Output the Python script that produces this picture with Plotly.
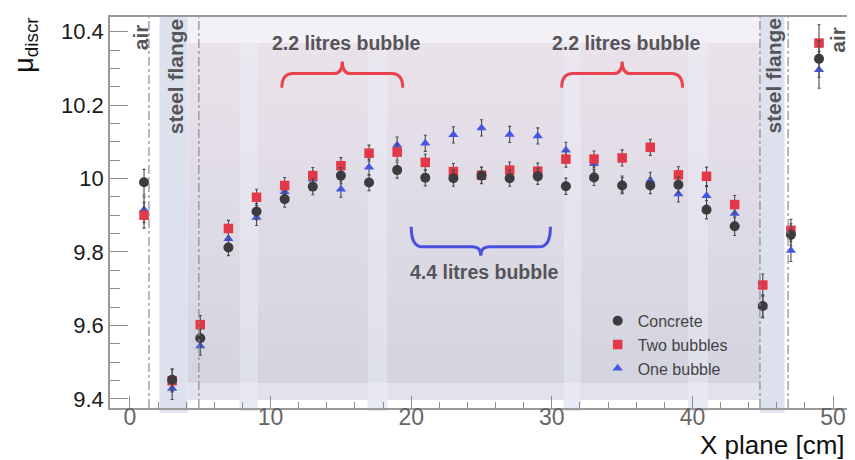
import plotly.graph_objects as go

# ---------------- data ----------------
x_plane = [1, 3, 5, 7, 9, 11, 13, 15, 17, 19, 21, 23, 25, 27, 29, 31, 33, 35, 37, 39, 41, 43, 45, 47, 49]

concrete = [9.990, 9.452, 9.565, 9.812, 9.910, 9.944, 9.978, 10.008, 9.989, 10.023, 10.002, 10.001, 10.008,
            10.001, 10.006, 9.979, 10.003, 9.981, 9.981, 9.983, 9.915, 9.870, 9.653, 9.847, 10.326]
concrete_err = [0.035, 0.030, 0.025, 0.022, 0.022, 0.022, 0.022, 0.022, 0.022, 0.022, 0.022, 0.022, 0.022,
                0.022, 0.022, 0.022, 0.022, 0.022, 0.022, 0.022, 0.025, 0.025, 0.030, 0.030, 0.050]

two_bubbles = [9.900, 9.449, 9.602, 9.864, 9.949, 9.981, 10.008, 10.035, 10.069, 10.072, 10.044, 10.019, 10.009,
               10.023, 10.020, 10.053, 10.053, 10.056, 10.085, 10.010, 10.006, 9.929, 9.710, 9.859, 10.369]
two_err = [0.035, 0.030, 0.025, 0.022, 0.022, 0.022, 0.022, 0.022, 0.022, 0.022, 0.022, 0.022, 0.022,
           0.022, 0.022, 0.022, 0.022, 0.022, 0.022, 0.022, 0.025, 0.025, 0.030, 0.030, 0.050]

one_bubble = [9.915, 9.428, 9.544, 9.836, 9.894, 9.964, 9.998, 9.971, 10.031, 10.091, 10.096, 10.119, 10.138,
              10.120, 10.116, 10.077, 10.040, 9.985, 9.995, 9.958, 9.953, 9.905, 9.650, 9.804, 10.296]
one_err = [0.035, 0.030, 0.025, 0.022, 0.022, 0.022, 0.022, 0.022, 0.022, 0.022, 0.022, 0.022, 0.022,
           0.022, 0.022, 0.022, 0.022, 0.022, 0.022, 0.022, 0.025, 0.025, 0.030, 0.030, 0.050]

series_names = ["Concrete", "Two bubbles", "One bubble"]

FONT = "Liberation Sans, Arial, Helvetica, sans-serif"
C_CONC = "#3c3c3e"
C_TWO = "#e23848"
C_ONE = "#4656e0"
C_ERR = "#4a4a4a"
C_LBL = "#555458"

fig = go.Figure()

# ---------------- background decoration (photo-like panels) ----------------
fig.add_trace(go.Scatter(
    x=[4.1, 44.8, 44.8, 4.1, 4.1], y=[9.442, 9.442, 10.369, 10.369, 9.442],
    mode="lines", fill="toself", line=dict(width=0),
    fillgradient=dict(type="vertical", start=9.442, stop=10.369,
                      colorscale=[[0, "#d3d4df"], [0.5, "#dedbe6"], [1, "#eae2ea"]]),
    hoverinfo="skip", showlegend=False))
# lighter pillars over the panel
for x0, x1 in [(7.8, 9.1), (16.9, 18.3), (30.85, 32.05), (39.7, 41.1)]:
    fig.add_trace(go.Scatter(
        x=[x0, x1, x1, x0, x0], y=[9.30, 9.30, 10.50, 10.50, 9.30],
        mode="lines", fill="toself", line=dict(width=0),
        fillcolor="rgba(238,240,248,0.45)", hoverinfo="skip", showlegend=False))

shapes = []
# top whitish strip and bottom lavender strip
shapes.append(dict(type="rect", xref="x", yref="y", x0=4.1, x1=44.8, y0=10.369, y1=10.44,
                   fillcolor="#f3f1f5", line_width=0, layer="below"))
shapes.append(dict(type="rect", xref="x", yref="y", x0=4.1, x1=44.8, y0=9.397, y1=9.442,
                   fillcolor="#e2e2ec", line_width=0, layer="below"))
# steel flange bands
for x0, x1 in [(2.1, 4.1), (44.8, 46.55)]:
    shapes.append(dict(type="rect", xref="x", yref="paper", x0=x0, x1=x1, y0=-0.012, y1=1,
                       fillcolor="#dde1ee", line_width=0, layer="below"))
# pillar feet below the axis
for x0, x1 in [(7.8, 9.1), (16.9, 18.3), (30.85, 32.05), (39.7, 41.1)]:
    shapes.append(dict(type="rect", xref="x", yref="paper", x0=x0, x1=x1, y0=-0.008, y1=0.02,
                       fillcolor="#e6e8f1", line_width=0, layer="below"))
# dash-dot boundary lines
for xv in [1.35, 4.9, 44.8, 46.8]:
    shapes.append(dict(type="line", xref="x", yref="paper", x0=xv, x1=xv, y0=0, y1=1,
                       line=dict(color="#8a8a8e", width=1.2, dash="dashdot"), layer="above"))


def brace_up(x0, x1, xc, y_end, y_arm, y_tip):
    r = 0.8
    return (f"M {x0},{y_end} Q {x0},{y_arm} {x0 + r},{y_arm} L {xc - 0.6},{y_arm} "
            f"Q {xc},{y_arm} {xc},{y_tip} Q {xc},{y_arm} {xc + 0.6},{y_arm} "
            f"L {x1 - r},{y_arm} Q {x1},{y_arm} {x1},{y_end}")


shapes.append(dict(type="path", xref="x", yref="y",
                   path=brace_up(10.8, 19.4, 15.1, 10.247, 10.286, 10.319),
                   line=dict(color="#e8424f", width=3), layer="above"))
shapes.append(dict(type="path", xref="x", yref="y",
                   path=brace_up(30.7, 39.3, 35.0, 10.247, 10.286, 10.319),
                   line=dict(color="#e8424f", width=3), layer="above"))
shapes.append(dict(type="path", xref="x", yref="y",
                   path=brace_up(20.0, 29.9, 24.95, 9.869, 9.814, 9.790),
                   line=dict(color="#4b4fe0", width=3), layer="above"))

# ---------------- data traces ----------------
def err(arr):
    return dict(type="data", array=arr, visible=True, color=C_ERR, thickness=1.1, width=1.5)


fig.add_trace(go.Scatter(x=x_plane, y=one_bubble, error_y=err(one_err), mode="markers",
                         name=series_names[2], legendrank=3,
                         marker=dict(symbol="triangle-up", size=9, color=C_ONE)))
fig.add_trace(go.Scatter(x=x_plane, y=two_bubbles, error_y=err(two_err), mode="markers",
                         name=series_names[1], legendrank=2,
                         marker=dict(symbol="square", size=9.5, color=C_TWO)))
fig.add_trace(go.Scatter(x=x_plane, y=concrete, error_y=err(concrete_err), mode="markers",
                         name=series_names[0], legendrank=1,
                         marker=dict(symbol="circle", size=10, color=C_CONC)))

# ---------------- annotations ----------------
ann = []
bold = dict(family=FONT, size=19.5, color=C_LBL)
ann.append(dict(x=15.4, y=10.369, xref="x", yref="y", text="<b>2.2 litres bubble</b>", showarrow=False, font=bold))
ann.append(dict(x=35.3, y=10.369, xref="x", yref="y", text="<b>2.2 litres bubble</b>", showarrow=False, font=bold))
ann.append(dict(x=25.2, y=9.745, xref="x", yref="y", text="<b>4.4 litres bubble</b>", showarrow=False, font=bold))
for xv, yv, t in [(0.71, 10.385, "air"), (3.26, 10.278, "steel flange"),
                  (45.74, 10.281, "steel flange"), (50.35, 10.378, "air")]:
    ann.append(dict(x=xv, y=yv, xref="x", yref="y", text=f"<b>{t}</b>", textangle=-90,
                    showarrow=False, font=dict(family=FONT, size=21, color=C_LBL)))
# axis titles
ann.append(dict(x=(25 - 110) / 740, y=(400 - 45) / 383, xref="paper", yref="paper",
                xanchor="center", yanchor="middle",
                text="μ<sub>discr</sub>", textangle=-90, showarrow=False,
                font=dict(family=FONT, size=27, color="#111111")))
ann.append(dict(x=(849 - 110) / 740, y=(400 - 436) / 383, xref="paper", yref="paper",
                xanchor="right", yanchor="middle",
                text="X plane [cm]", showarrow=False,
                font=dict(family=FONT, size=26, color="#111111")))

# The page body adds an 8 px margin, so the figure is 8 px smaller and its margins 8 px tighter.
fig.update_layout(
    width=847, height=452,
    margin=dict(l=102, r=5, t=9, b=52),
    paper_bgcolor="white", plot_bgcolor="white",
    font=dict(family=FONT),
    shapes=shapes, annotations=ann,
    showlegend=True,
    legend=dict(x=(599 - 110) / 740, y=(400 - 298) / 383, xanchor="left", yanchor="top",
                bgcolor="rgba(0,0,0,0)", font=dict(family=FONT, size=16, color="#444444"),
                itemwidth=30, traceorder="normal"),
    xaxis=dict(range=[-1.42, 51.06], dtick=10, tick0=0, ticks="inside", ticklen=12, tickwidth=1,
               tickcolor="#8c8c8c", showline=True, linecolor="#9a9a9a", linewidth=1.5, mirror=True,
               showgrid=False, zeroline=False, ticklabelstandoff=-12,
               tickfont=dict(family=FONT, size=23, color="#666666"),
               minor=dict(dtick=2, ticks="inside", ticklen=6, tickcolor="#8c8c8c", showgrid=False)),
    yaxis=dict(range=[9.375, 10.44], dtick=0.2, tick0=9.4, ticks="inside", ticklen=18, tickwidth=1,
               tickcolor="#8c8c8c", showline=True, linecolor="#9a9a9a", linewidth=1.5, mirror=True,
               showgrid=False, zeroline=False,
               tickfont=dict(family=FONT, size=22, color="#1a1a1a"),
               minor=dict(dtick=0.05, ticks="inside", ticklen=10, tickcolor="#8c8c8c", showgrid=False)),
)

fig.write_html("out.html")
